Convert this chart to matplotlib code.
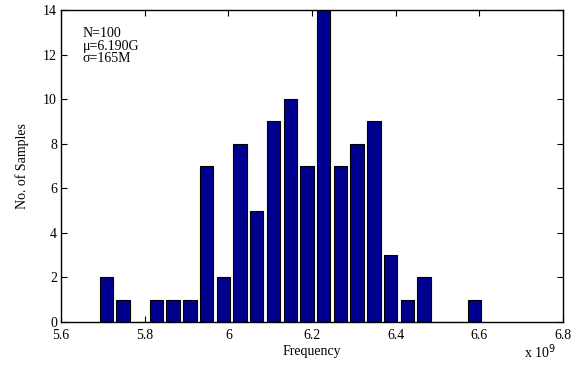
import matplotlib
matplotlib.use("Agg")
import matplotlib.pyplot as plt
import numpy as np

bin_centers_ghz = [5.708, 5.748, 5.788, 5.828, 5.868, 5.908, 5.948, 5.988, 6.028, 6.068,
                   6.108, 6.148, 6.188, 6.228, 6.268, 6.308, 6.348, 6.388, 6.428, 6.468,
                   6.508, 6.548, 6.588]
counts = [2, 1, 0, 1, 1, 1, 7, 2, 8, 5, 9, 10, 7, 15, 7, 8, 9, 3, 1, 2, 0, 0, 1]
xticks = [5.6, 5.8, 6.0, 6.2, 6.4, 6.6, 6.8]
xticklabels = ["5.6", "5.8", "6", "6.2", "6.4", "6.6", "6.8"]
yticks = [0, 2, 4, 6, 8, 10, 12, 14]
stats_text = "N=100\nμ=6.190G\nσ=165M"

plt.rcParams['font.family'] = ['Liberation Serif', 'DejaVu Serif']

fig = plt.figure(figsize=(5.87, 3.67), dpi=100)
ax = fig.add_axes([0.104, 0.1226, 0.855, 0.850])

centers = np.array(bin_centers_ghz) * 1e9
width = 0.04e9 * 0.8
ax.bar(centers, counts, width=width, color='#00008F', edgecolor='black', linewidth=0.8, zorder=2)

ax.set_xlim(5.6e9, 6.8e9)
ax.set_ylim(0, 14)
ax.set_xticks([t * 1e9 for t in xticks])
ax.set_xticklabels(xticklabels)
ax.set_yticks(yticks)
ax.tick_params(direction='in', top=True, right=True, length=4, width=0.8, labelsize=10)
ax.tick_params(axis='x', pad=5)
ax.tick_params(axis='y', pad=3)
for s in ax.spines.values():
    s.set_linewidth(1.0)

ax.set_xlabel("Frequency", fontsize=10, labelpad=2)
ax.set_ylabel("No. of Samples", fontsize=10, labelpad=10)
ax.text(0.043, 0.945, stats_text, transform=ax.transAxes, fontsize=10, va='top', ha='left',
        linespacing=0.95)
fig.text(0.92, 0.015, r"x 10$^{9}$", fontsize=10, ha='center', va='bottom')

fig.savefig("out.png", dpi=100)
